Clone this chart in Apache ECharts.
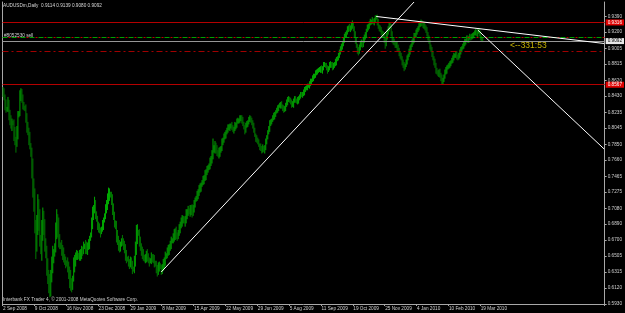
<!DOCTYPE html>
<html><head><meta charset="utf-8">
<script src="https://cdn.jsdelivr.net/npm/echarts@6/dist/echarts.min.js"></script>
<style>html,body{margin:0;padding:0;background:#000;}#c{width:625px;height:313px;}</style>
</head><body><div id="c"></div>
<script>
const symbolName = 'AUDUSDm,Daily';
const copyrightText = 'Interbank FX Trader 4, \u00a9 2001-2008 MetaQuotes Software Corp.';
const orderText = '#8052530 sell';
const timerText = '<--331:53';
const dateTickLabels = ['2 Sep 2008','9 Oct 2008','16 Nov 2008','23 Dec 2008','29 Jan 2009','8 Mar 2009','15 Apr 2009','22 May 2009','29 Jun 2009','5 Aug 2009','11 Sep 2009','19 Oct 2009','25 Nov 2009','4 Jan 2010','10 Feb 2010','19 Mar 2010'];
const barsPerDateLabel = 32;
const priceTickLabels = [0.9390,0.9200,0.9005,0.8815,0.8620,0.8430,0.8235,0.8045,0.7850,0.7660,0.7465,0.7275,0.7080,0.6890,0.6700,0.6505,0.6315,0.6120,0.5930];
const totalSlots = 605;

// daily bars, prices in pips (x 10000); each bar opens at the previous close
const firstOpen = 8500;
const closes = [
8470,8420,8330,8260,8290,8350,8220,8140,8080,8120,
8100,7980,7900,7860,7960,8190,8230,8430,8480,8400,
8330,8300,8270,8180,8050,8010,7920,7850,7720,7560,
7360,7180,6880,6650,6820,7100,6960,6740,6560,6780,
6960,6880,6700,6520,6400,6280,6150,6100,6250,6380,
6480,6520,6640,6780,6950,6860,6700,6650,6610,6580,
6530,6480,6460,6440,6400,6370,6320,6230,6160,6130,
6250,6370,6450,6500,6520,6530,6490,6500,6530,6580,
6570,6610,6640,6600,6580,6620,6650,6710,6770,6880,
7000,7060,7110,7030,6940,6880,6840,6820,6790,6840,
6880,6930,7000,7060,7120,7180,7240,7260,7230,7180,
7080,7000,6920,6850,6760,6700,6640,6600,6640,6700,
6680,6640,6580,6520,6480,6460,6430,6410,6430,6400,
6360,6340,6430,6580,6730,6800,6770,6690,6620,6570,
6530,6500,6460,6490,6520,6490,6460,6440,6460,6490,
6480,6460,6430,6400,6360,6330,6360,6400,6370,6340,
6370,6410,6440,6490,6520,6560,6580,6610,6640,6680,
6700,6730,6760,6800,6760,6730,6800,6840,6880,6910,
6940,6960,6920,6940,7000,7030,7060,7030,7060,7080,
7030,7080,7120,7180,7210,7240,7270,7300,7330,7360,
7400,7420,7440,7480,7520,7540,7560,7600,7630,7660,
7720,7780,7800,7840,7780,7760,7720,7760,7780,7800,
7880,7900,7930,7960,8000,8020,8040,8050,8070,8080,
8050,8020,8040,8070,8080,8120,8140,8140,8160,8170,
8140,8100,8050,8020,8070,8100,8120,8140,8170,8140,
8120,8070,8020,7960,7920,7900,7880,7840,7820,7800,
7780,7810,7780,7810,7880,7930,8000,8040,8100,8120,
8140,8170,8190,8210,8240,8260,8280,8310,8320,8330,
8310,8290,8260,8280,8330,8360,8380,8400,8380,8360,
8320,8330,8380,8400,8380,8360,8380,8400,8430,8450,
8440,8460,8480,8500,8530,8530,8550,8560,8580,8600,
8620,8650,8670,8680,8700,8720,8740,8740,8750,8770,
8740,8770,8800,8810,8800,8770,8740,8770,8800,8820,
8810,8770,8800,8820,8840,8870,8890,8920,8960,8990,
9030,9060,9100,9150,9170,9200,9230,9250,9230,9250,
9270,9290,9250,9180,9100,9040,8990,8960,9010,9060,
9080,9040,9100,9140,9170,9220,9250,9270,9300,9320,
9320,9340,9320,9340,9370,9380,9320,9270,9250,9230,
9200,9180,9160,9110,9060,9130,9200,9250,9280,9270,
9180,9110,9080,9060,9040,9060,9010,8990,8940,8920,
8890,8840,8800,8780,8800,8840,8890,8920,8960,9010,
9040,9080,9100,9150,9170,9200,9220,9250,9280,9300,
9320,9300,9270,9280,9250,9230,9180,9130,9080,9030,
8990,8940,8890,8840,8800,8740,8720,8700,8720,8680,
8650,8600,8620,8670,8720,8740,8770,8790,8800,8820,
8840,8860,8890,8910,8920,8940,8910,8890,8920,8960,
8990,9010,9030,9060,9080,9100,9130,9100,9130,9150,
9130,9150,9160,9180,9190,9200,9180,9200,9220,9180,
9130,9114,9092];
const upperWicks = [
40,55,30,60,10,70,35,45,60,40, 15,50,80,40,110,60,20,70,45,35,
50,30,15,60,45,70,40,80,15,90, 120,80,140,60,180,150,90,110,20,160,
130,90,70,20,110,80,60,140,90,120, 150,70,20,130,120,60,110,70,20,90,
60,80,50,40,15,90,70,60,110,80, 20,120,70,50,60,40,15,80,60,50,
40,70,15,60,80,50,60,40,20,90, 100,60,110,70,15,50,40,60,30,20,
60,40,20,70,60,80,90,60,20,50, 70,60,40,15,80,60,50,60,40,20,
60,40,50,70,60,20,50,40,70,60, 50,20,80,100,150,90,20,60,50,40,
50,60,20,40,50,70,50,30,20,60, 40,50,60,20,50,40,70,40,20,30,
40,60,50,70,20,50,60,40,50,60, 20,50,70,40,60,30,20,50,40,60,
60,30,20,50,70,40,50,20,60,40, 50,40,60,30,20,50,40,60,50,30,
20,50,40,60,30,50,40,20,60,50, 60,140,40,50,30,60,20,50,40,30,
40,30,50,40,20,30,50,40,30,20, 40,30,20,50,30,40,30,20,40,30,
30,40,20,30,40,30,20,40,30,20, 30,20,40,30,20,40,30,30,20,40,
30,40,20,30,40,30,20,30,40,30, 20,30,40,30,20,30,40,20,30,30,
40,20,30,30,20,30,40,30,20,30, 30,40,20,30,30,20,40,30,20,30,
30,20,30,40,20,30,30,20,30,40, 20,30,30,20,40,30,20,30,30,20,
30,20,40,30,20,30,30,20,40,30, 20,30,30,20,40,30,20,30,30,40,
30,20,40,30,30,20,40,30,50,30, 40,50,30,20,30,40,20,30,40,30,
30,20,40,30,30,20,40,30,30,40, 30,40,20,30,30,25,30,40,20,30,
30,20,30,40,30,60,30,20,30,40, 30,30,20,40,30,20,30,40,20,30,
30,20,30,40,20,30,30,20,40,30, 20,30,30,40,20,30,30,20,30,30,
30,20,30,40,20,30,30,20,30,30, 20,30,30,20,40,30,30,20,30,40,
30,40,30,20,30,40,30,20,30,30, 20,30,30,40,20,30,30,20,30,30,
30,20,30,30,40,20,30,30,20,30, 20,30,30,20,30,40,30,20,30,20,
30,25,25];
const lowerWicks = [
50,40,70,30,15,50,80,60,40,70, 20,90,60,110,40,50,15,40,60,50,
60,40,20,70,60,50,80,60,20,120, 150,140,100,180,90,60,150,120,30,110,
90,120,140,40,130,110,90,90,80,60, 80,60,20,90,70,130,90,60,20,70,
70,50,60,80,20,60,90,110,70,60, 30,50,60,70,40,60,20,40,50,60,
60,40,20,70,50,60,40,60,20,40, 50,60,40,80,20,60,50,40,60,20,
40,60,20,50,40,60,50,70,20,60, 80,60,70,20,90,60,70,50,40,20,
50,60,40,70,60,20,50,60,40,50, 70,20,40,50,60,80,20,70,50,60,
60,50,20,40,60,50,40,60,20,50, 50,40,60,20,60,70,50,40,20,60,
50,40,60,50,20,40,50,60,40,50, 20,40,50,60,50,40,20,50,60,40,
50,40,20,60,40,50,40,20,50,60, 60,40,50,30,20,40,50,40,30,50,
20,40,50,30,60,40,30,20,50,40, 40,50,30,60,40,50,20,40,60,30,
30,40,30,20,40,30,30,20,40,30, 30,20,40,30,40,30,20,40,30,30,
40,30,20,50,30,20,40,30,20,30, 40,30,30,20,40,30,30,20,40,30,
40,30,20,40,30,30,20,30,40,30, 30,20,30,40,30,20,30,30,20,40,
30,40,30,20,30,30,40,20,30,30, 30,20,40,30,30,20,30,40,20,30,
20,30,30,40,20,30,30,20,40,30, 30,20,40,30,30,20,30,30,20,40,
30,40,30,20,30,30,40,20,30,30, 40,30,20,30,30,40,20,30,30,30,
30,40,30,30,20,40,30,30,20,30, 30,30,40,50,40,30,50,40,20,30,
40,30,20,30,30,40,20,30,30,20, 30,20,30,40,30,20,40,30,40,30,
40,30,30,40,60,30,20,30,40,30, 30,40,30,20,30,30,40,30,30,40,
30,40,30,50,30,20,30,30,20,30, 30,20,30,30,20,30,30,20,30,20,
30,30,20,30,30,40,30,30,20,40, 30,40,30,40,30,40,30,30,40,30,
40,30,30,20,30,30,40,20,30,30, 30,20,30,30,20,30,40,30,20,30,
30,30,20,30,30,30,20,30,30,20, 30,20,30,30,20,30,30,40,20,30,
30,30,12];

// horizontal levels and drawn trend lines (bar index, price)
const redLevels = [0.9316, 0.8567];
const bidLevel = 0.9092;
const sellOrderLevel = 0.9135;
const stopLevel = 0.8965;
const trendLines = [[159,0.6315,413,0.9562],[375,0.9388,604,0.9063],[477,0.9225,604,0.7794]];

const candles = closes.map((c, i) => {
  const o = i === 0 ? firstOpen : closes[i - 1];
  const h = Math.max(o, c) + upperWicks[i];
  const l = Math.min(o, c) - lowerWicks[i];
  return [o / 1e4, c / 1e4, l / 1e4, h / 1e4];
});
const last = candles[candles.length - 1];
const titleText = symbolName + '  ' + [last[0], last[3], last[2], last[1]].map(v => v.toFixed(4)).join(' ');

const FONT = 'Liberation Sans';
const FS = 4.7;
const labelColor = '#d0d0d0';
const frameColor = '#a8a8a8';
const slots = Array.from({length: totalSlots}, (_, i) => String(i));
const isDateTick = (idx) => idx % barsPerDateLabel === 0 && idx / barsPerDateLabel < dateTickLabels.length;

const levelLabel = (v, bg, fg) => ({show: true, position: 'end', distance: 1, formatter: () => v.toFixed(4),
  backgroundColor: bg, color: fg, fontSize: FS, fontFamily: FONT, padding: [1, 2, 0, 2]});

const markData = [];
redLevels.forEach(v => markData.push({yAxis: v, lineStyle: {color: '#b40000', width: 1, type: 'solid'}, label: levelLabel(v, '#e00000', '#ffffff')}));
markData.push({yAxis: bidLevel, lineStyle: {color: '#969696', width: 1, type: 'solid'}, label: levelLabel(bidLevel, '#e8e8e8', '#000000')});
markData.push({yAxis: sellOrderLevel, lineStyle: {color: '#00a000', width: 1, type: [5, 4]}, label: {show: false}});
markData.push({yAxis: sellOrderLevel, lineStyle: {color: '#c00000', width: 1, type: [2, 7], dashOffset: -6}, label: {show: false}});
markData.push({yAxis: stopLevel, lineStyle: {color: '#a00000', width: 1, type: [6, 3, 2, 3]}, label: {show: false}});
trendLines.forEach(t => markData.push([{coord: [t[0], t[1]], lineStyle: {color: '#ffffff', width: 1, type: 'solid'}}, {coord: [t[2], t[3]]}]));

const chart = echarts.init(document.getElementById('c'), null, {renderer: 'canvas'});
chart.setOption({
  backgroundColor: '#000000',
  animation: false,
  grid: {left: 1, right: 19, top: 2, bottom: 9},
  xAxis: {
    type: 'category', data: slots, boundaryGap: true,
    axisLine: {show: true, lineStyle: {color: frameColor, width: 1}},
    axisTick: {show: true, interval: isDateTick, length: 2, lineStyle: {color: frameColor}},
    axisLabel: {show: true, interval: isDateTick, formatter: (v, idx) => dateTickLabels[Math.round(idx / barsPerDateLabel)] || '',
      align: 'left', margin: 2, fontSize: FS, fontFamily: FONT, color: labelColor},
    splitLine: {show: false}
  },
  yAxis: [{
    type: 'value', position: 'right', min: 0.5930, max: 0.9562, scale: true,
    axisLine: {show: true, lineStyle: {color: frameColor, width: 1}},
    axisTick: {show: true, customValues: priceTickLabels, length: 2, lineStyle: {color: frameColor}},
    axisLabel: {show: true, customValues: priceTickLabels, formatter: v => v.toFixed(4), margin: 3,
      fontSize: FS, fontFamily: FONT, color: labelColor},
    splitLine: {show: false}
  }, {
    type: 'value', position: 'left', min: 0.5930, max: 0.9562,
    axisLine: {show: true, lineStyle: {color: frameColor, width: 1}},
    axisTick: {show: false}, axisLabel: {show: false}, splitLine: {show: false}
  }],
  series: [{
    type: 'candlestick', data: candles, large: true, largeThreshold: 100,
    itemStyle: {color: '#00a800', color0: '#007800', borderColor: '#00a800', borderColor0: '#007800', borderWidth: 1},
    markLine: {silent: true, symbol: ['none', 'none'], precision: 4, animation: false, data: markData, label: {show: false}}
  }],
  graphic: [
    {type: 'text', left: 3, top: 3, style: {text: titleText, fill: '#d8d8d8', fontSize: FS, fontFamily: FONT}},
    {type: 'text', left: 4, top: 33, style: {text: orderText, fill: '#d0d0d0', fontSize: FS, fontFamily: FONT}},
    {type: 'text', left: 3, top: 297, style: {text: copyrightText, fill: '#d0d0d0', fontSize: FS, fontFamily: FONT}},
    {type: 'text', left: 510, top: 41, style: {text: timerText, fill: '#c8b400', fontSize: 8.5, fontFamily: FONT}}
  ]
});
</script></body></html>
